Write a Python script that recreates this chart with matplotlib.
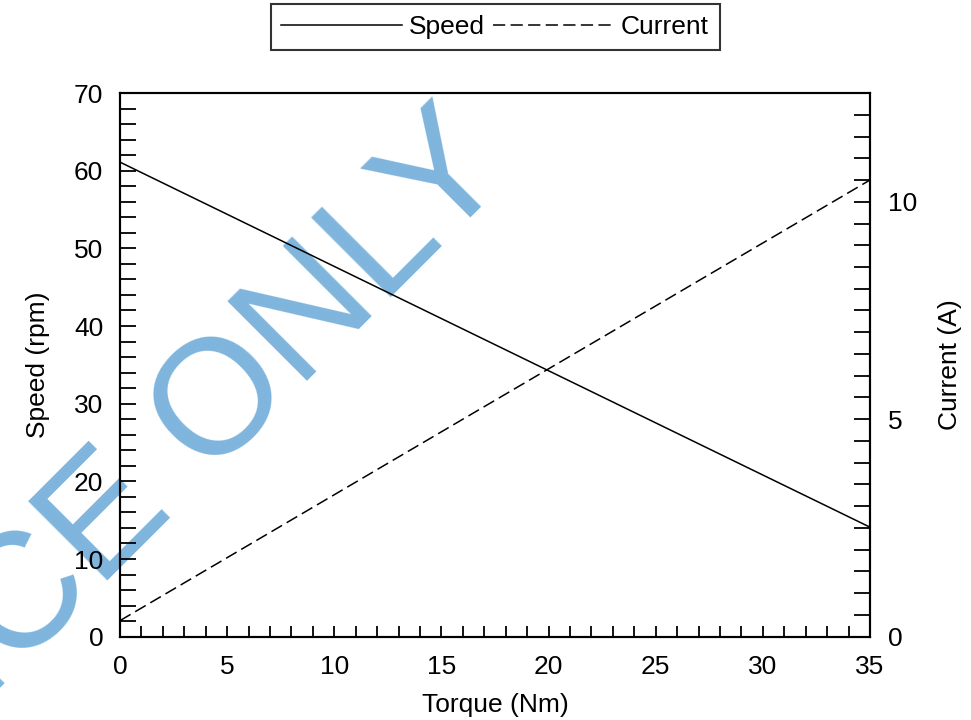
import numpy as np
import matplotlib
matplotlib.use('Agg')
import matplotlib.pyplot as plt
from matplotlib.ticker import MultipleLocator

plt.rcParams['font.family'] = ['Liberation Sans', 'DejaVu Sans']

### Data
torque = [0, 35]            # Nm
speed = [61.1, 14.1]        # rpm
current = [0.37, 10.5]      # A

x_ticks = [0, 5, 10, 15, 20, 25, 30, 35]
speed_ticks = [0, 10, 20, 30, 40, 50, 60, 70]
current_ticks = [0, 5, 10]

fs = 19

fig = plt.figure(figsize=(9.71, 7.2), dpi=100, facecolor='white')
ax = fig.add_axes([0.1236, 0.1157, 0.7724, 0.7551])
ax.set_facecolor('none')
ax2 = ax.twinx()
ax2.set_facecolor('none')

l1, = ax.plot(torque, speed, 'k-', linewidth=1.1, label='Speed')
l2, = ax2.plot(torque, current, color='k', linewidth=1.1, dashes=(8, 3.5), label='Current')

ax.set_xlim(0, 35)
ax.set_ylim(0, 70)
ax2.set_ylim(0, 12.5)

ax.set_xticks(x_ticks)
ax.set_yticks(speed_ticks)
ax2.set_yticks(current_ticks)
ax.xaxis.set_minor_locator(MultipleLocator(1))
ax.yaxis.set_minor_locator(MultipleLocator(2))
ax2.yaxis.set_minor_locator(MultipleLocator(0.5))

ax.tick_params(axis='x', which='both', direction='in', length=8, width=1.3,
               labelsize=fs, pad=13, top=False)
ax.tick_params(axis='y', which='both', direction='in', length=11.5, width=1.3,
               labelsize=fs, pad=12, right=False)
ax2.tick_params(axis='y', which='both', direction='in', length=11.5, width=1.3,
                labelsize=fs, pad=13)

for a in (ax, ax2):
    for s in a.spines.values():
        s.set_linewidth(1.5)

ax.set_xlabel('Torque (Nm)', fontsize=fs, labelpad=10)
ax.set_ylabel('Speed (rpm)', fontsize=fs, labelpad=17)
ax2.set_ylabel('Current (A)', fontsize=fs, labelpad=15)

leg = ax.legend(handles=[l1, l2], ncol=2, loc='lower center', bbox_to_anchor=(0.5, 1.0800),
                fontsize=fs, frameon=True, fancybox=False, edgecolor='black',
                handlelength=4.6, handletextpad=0.25, columnspacing=0.3,
                borderpad=0.4, borderaxespad=0)
leg.get_frame().set_linewidth(1.5)
for h in leg.get_lines():
    h.set_linewidth(1.1)

# watermark
fig.text(0.531, 0.760, 'REFERENCE ONLY', fontsize=118, color='#7FB5DD',
         rotation=45, rotation_mode='anchor', ha='right', va='baseline', zorder=-1)

fig.savefig('out.png', dpi=100, facecolor='white')
